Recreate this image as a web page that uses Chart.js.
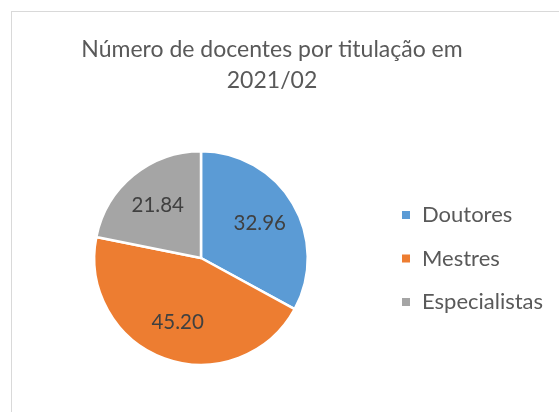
<!DOCTYPE html>
<html>
<head>
<meta charset="utf-8">
<script src="https://cdn.jsdelivr.net/npm/chart.js@4/dist/chart.umd.min.js"></script>
<style>
html,body{margin:0;padding:0;background:#fff;}
#wrap{position:relative;width:559px;height:412px;}
</style>
</head>
<body>
<div id="wrap"><canvas id="c" width="559" height="412"></canvas></div>
<script>
const titleLines = ["Número de docentes por titulação em", "2021/02"];
const categories = ["Doutores", "Mestres", "Especialistas"];
const values = [32.96, 45.20, 21.84];
const colors = ["#5B9BD5", "#ED7D31", "#A5A5A5"];
const FONT = "Lato, 'Open Sans', sans-serif";

const decor = {
  id: 'decor',
  beforeDraw(chart) {
    const ctx = chart.ctx;
    ctx.save();
    ctx.strokeStyle = '#D9D9D9';
    ctx.lineWidth = 1;
    ctx.strokeRect(11.5, 11.5, 600, 500);
    ctx.restore();
  },
  afterDraw(chart) {
    const ctx = chart.ctx;
    ctx.save();
    // title
    ctx.fillStyle = '#595959';
    ctx.font = "23px " + FONT;
    ctx.textAlign = 'center';
    ctx.textBaseline = 'middle';
    ctx.fillText(titleLines[0], 272, 50);
    ctx.fillText(titleLines[1], 272, 81);
    // data labels
    const meta = chart.getDatasetMeta(0);
    ctx.font = "20.5px " + FONT;
    ctx.fillStyle = '#404040';
    meta.data.forEach((arc, i) => {
      const p = arc.getProps(['x','y','startAngle','endAngle','outerRadius']);
      const mid = (p.startAngle + p.endAngle) / 2;
      const r = p.outerRadius * 0.64;
      ctx.fillText(values[i].toFixed(2), p.x + Math.cos(mid) * r, p.y + Math.sin(mid) * r);
    });
    // legend
    ctx.font = "22px " + FONT;
    ctx.textAlign = 'left';
    categories.forEach((lab, i) => {
      const y = 215 + i * 43.5;
      ctx.fillStyle = colors[i];
      ctx.fillRect(402, y - 4, 8, 8);
      ctx.fillStyle = '#595959';
      ctx.fillText(lab, 422, y);
    });
    ctx.restore();
  }
};

new Chart(document.getElementById('c'), {
  type: 'pie',
  data: {
    labels: categories,
    datasets: [{
      data: values,
      backgroundColor: colors,
      borderColor: '#FFFFFF',
      borderWidth: 2.5,
      hoverOffset: 0
    }]
  },
  options: {
    responsive: false,
    animation: false,
    events: [],
    layout: { padding: { left: 93, right: 250, top: 150, bottom: 46 } },
    plugins: {
      legend: { display: false },
      title: { display: false },
      tooltip: { enabled: false }
    }
  },
  plugins: [decor]
});
</script>
</body>
</html>
